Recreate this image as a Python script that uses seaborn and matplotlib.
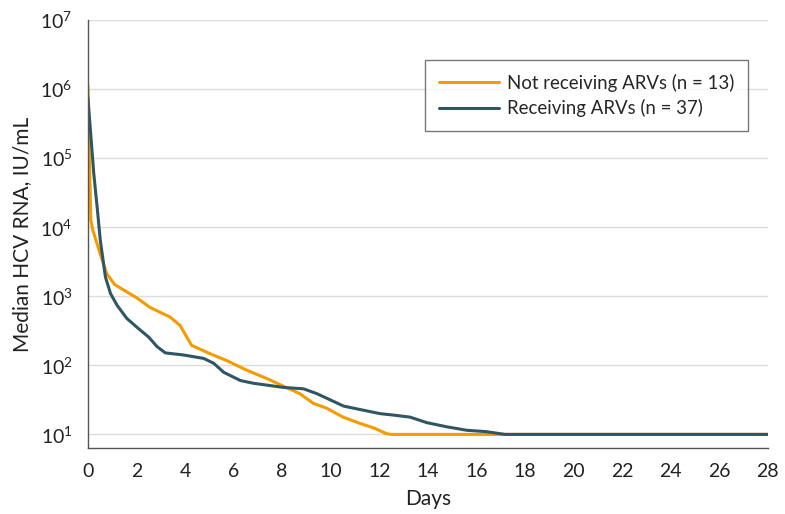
import matplotlib
matplotlib.use("Agg")
import matplotlib.pyplot as plt
import matplotlib.ticker as mticker
import numpy as np
import pandas as pd
import seaborn as sns

# Werte (Tage, log10 der medianen HCV-RNA)
DAYS_NOT_ARV = [0, 0.03, 0.12, 0.2, 0.5, 0.77, 1.1, 2.0, 2.55, 3.38, 3.79, 4.27,
                5.02, 5.71, 6.54, 7.36, 7.98, 8.73, 9.28, 9.83, 10.51, 11.2,
                11.8, 12.3, 12.5, 28]
LOG_NOT_ARV = [6.05, 5.5, 4.1, 3.96, 3.62, 3.33, 3.17, 2.98, 2.84, 2.70, 2.58, 2.29,
               2.17, 2.07, 1.93, 1.81, 1.71, 1.59, 1.45, 1.38, 1.25, 1.16,
               1.09, 1.01, 1.0, 1.0]

DAYS_ARV = [0, 0.24, 0.38, 0.51, 0.72, 0.93, 1.2, 1.6, 2.09, 2.5, 2.85, 3.19,
            3.94, 4.77, 5.18, 5.59, 6.28, 6.82, 7.65, 8.06, 8.88, 9.43, 9.98,
            10.53, 11.21, 12.04, 12.58, 13.27, 13.96, 14.78, 15.6, 16.4, 17.18, 28]
LOG_ARV = [5.88, 4.78, 4.29, 3.81, 3.28, 3.04, 2.87, 2.68, 2.53, 2.41, 2.27, 2.18,
           2.15, 2.10, 2.03, 1.90, 1.78, 1.74, 1.70, 1.68, 1.66, 1.59, 1.50,
           1.41, 1.36, 1.30, 1.28, 1.25, 1.17, 1.11, 1.06, 1.04, 1.0, 1.0]

LABEL_NOT_ARV = "Not receiving ARVs (n = 13)"
LABEL_ARV = "Receiving ARVs (n = 37)"
COLORS = {LABEL_NOT_ARV: "#F59B00", LABEL_ARV: "#2F5663"}

df = pd.concat([
    pd.DataFrame({"Days": DAYS_NOT_ARV, "RNA": np.power(10.0, LOG_NOT_ARV),
                  "Gruppe": LABEL_NOT_ARV}),
    pd.DataFrame({"Days": DAYS_ARV, "RNA": np.power(10.0, LOG_ARV),
                  "Gruppe": LABEL_ARV}),
], ignore_index=True)

sns.set_style("white")
plt.rcParams["font.family"] = ["Lato", "DejaVu Sans"]
plt.rcParams["mathtext.fontset"] = "custom"
plt.rcParams["mathtext.rm"] = "Lato"
plt.rcParams["mathtext.default"] = "regular"

fig = plt.figure(figsize=(7.85, 5.14), dpi=100)
ax = fig.add_axes([0.112, 0.128, 0.866, 0.833])

sns.lineplot(data=df, x="Days", y="RNA", hue="Gruppe", palette=COLORS,
             linewidth=2.2, estimator=None, sort=False, ax=ax)

ax.set_yscale("log")
ax.set_ylim(10 ** 0.8, 1e7)
ax.set_xlim(0, 28)
ax.set_xticks(range(0, 29, 2))
ax.yaxis.set_minor_locator(mticker.LogLocator(base=10, subs=np.arange(2, 10), numticks=20))
ax.yaxis.set_minor_formatter(mticker.NullFormatter())
ax.set_yticks([10 ** k for k in range(1, 8)])
ax.set_yticklabels([f"$10^{{{k}}}$" for k in range(1, 8)])

ax.grid(axis="y", which="major", color="#DCDCDC", linewidth=1)
ax.grid(axis="x", visible=False)
ax.set_axisbelow(True)

for side in ["top", "right"]:
    ax.spines[side].set_visible(False)
for side in ["left", "bottom"]:
    ax.spines[side].set_color("#555555")
    ax.spines[side].set_linewidth(1)

ax.tick_params(axis="both", which="major", direction="out", length=7, width=1,
               color="#555555", labelsize=14, labelcolor="#222222", pad=4)
ax.tick_params(axis="y", which="minor", direction="out", length=4, width=0.8,
               color="#555555")

ax.set_xlabel("Days", fontsize=15, color="#222222", labelpad=6)
ax.set_ylabel("Median HCV RNA, IU/mL", fontsize=15, color="#222222", labelpad=6)

leg = ax.legend(loc="upper left", bbox_to_anchor=(0.496, 0.907), frameon=True,
                fancybox=False, edgecolor="#555555", fontsize=13.4,
                handlelength=3.2, handletextpad=0.45, borderpad=0.75,
                labelspacing=0.4, borderaxespad=0)
leg.get_frame().set_linewidth(1)
leg.set_title(None)

fig.savefig("out.png", dpi=100)
